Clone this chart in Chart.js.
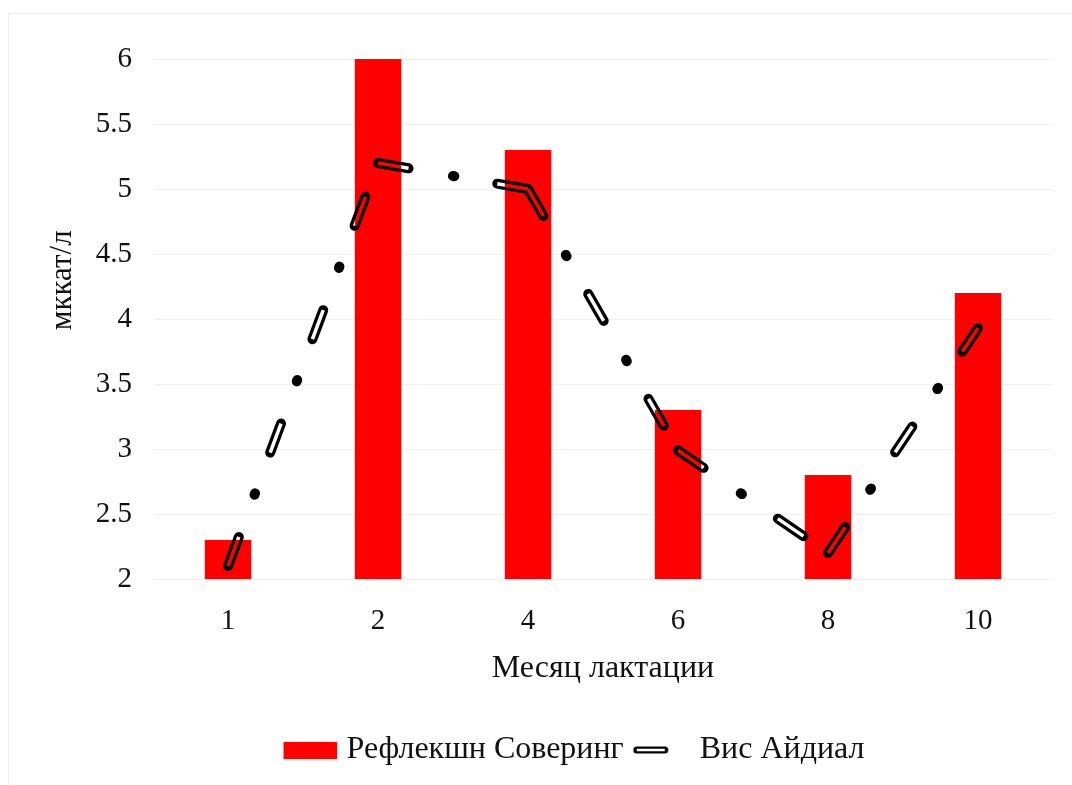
<!DOCTYPE html>
<html>
<head>
<meta charset="utf-8">
<script src="https://cdn.jsdelivr.net/npm/chart.js@4/dist/chart.umd.min.js"></script>
<style>
  html, body { margin: 0; padding: 0; background: #ffffff; }
  #wrap { position: relative; width: 1072px; height: 785px; overflow: hidden; }
  #frame { position: absolute; left: 8px; top: 13px; width: 1100px; height: 800px; border: 1px solid #ececec; box-sizing: border-box; }
  canvas { position: absolute; left: 0; top: 0; }
</style>
</head>
<body>
<div id="wrap">
  <div id="frame"></div>
  <canvas id="c" width="1072" height="785"></canvas>
</div>
<script>
// ---- data ----
const categories = ['1', '2', '4', '6', '8', '10'];
const reflexValues = [2.3, 6.0, 5.3, 3.3, 2.8, 4.2];
const visValues = [2.1, 5.2, 5.0, 2.99, 2.2, 3.93];
const seriesNames = ['Рефлекшн Соверинг', 'Вис Айдиал'];
const axisTitles = { x: 'Месяц лактации', y: 'мккат/л' };
const yRange = { min: 2, max: 6, step: 0.5 };

// ---- styles ----
const FONT = 'Liberation Serif';
const TXT = '#111111';
const RED = '#ff0000';
const DASH_OUTER = [31, 45, 1.5, 43.5];
const DASH_INNER = [31, 45, 0, 45];

function makeRedBox() {
  const c = document.createElement('canvas');
  c.width = 64; c.height = 17;
  const x = c.getContext('2d');
  x.fillStyle = RED; x.fillRect(11, 0, 53, 17);
  return c;
}
function makePill() {
  const c = document.createElement('canvas');
  c.width = 50; c.height = 10;
  const x = c.getContext('2d');
  x.strokeStyle = '#000';
  x.lineCap = 'round'; x.lineWidth = 7;
  x.beginPath(); x.moveTo(4, 5); x.lineTo(32, 5); x.stroke();
  x.globalCompositeOperation = 'destination-out';
  x.lineCap = 'butt'; x.lineWidth = 2.5;
  x.beginPath(); x.moveTo(4, 5); x.lineTo(32, 5); x.stroke();
  return c;
}
const redImg = makeRedBox();
const pillImg = makePill();

// draws outlined (hollow) dashed line: outer black stroke minus inner stroke
const hollowLine = {
  id: 'hollowLine',
  beforeDatasetDraw(chart, args) {
    if (args.index === 1 || args.index === 2) return false;
  },
  afterDatasetsDraw(chart) {
    const off = document.createElement('canvas');
    off.width = chart.canvas.width; off.height = chart.canvas.height;
    const octx = off.getContext('2d');
    const outer = chart.getDatasetMeta(1).dataset;
    const inner = chart.getDatasetMeta(2).dataset;
    outer.draw(octx, chart.chartArea, 0, outer.points.length);
    octx.globalCompositeOperation = 'destination-out';
    inner.draw(octx, chart.chartArea, 0, inner.points.length);
    chart.ctx.drawImage(off, 0, 0);
  }
};

// restart the dash pattern at every data point (each segment stroked separately)
const restartDash = { borderDashOffset: ctx => ctx.p0DataIndex * 0.001 };

new Chart(document.getElementById('c'), {
  type: 'bar',
  data: {
    labels: categories,
    datasets: [
      {
        label: seriesNames[0],
        data: reflexValues,
        backgroundColor: RED,
        borderWidth: 0,
        barPercentage: 0.31,
        categoryPercentage: 1.0
      },
      {
        type: 'line',
        label: seriesNames[1],
        data: visValues,
        borderColor: '#000000',
        backgroundColor: '#000000',
        borderWidth: 10,
        borderCapStyle: 'round',
        borderJoinStyle: 'round',
        borderDash: DASH_OUTER,
        tension: 0,
        pointRadius: 0,
        fill: false,
        segment: restartDash
      },
      {
        type: 'line',
        label: '_inner',
        data: visValues,
        borderColor: '#000000',
        borderWidth: 3.5,
        borderCapStyle: 'butt',
        borderJoinStyle: 'round',
        borderDash: DASH_INNER,
        tension: 0,
        pointRadius: 0,
        fill: false,
        segment: restartDash
      }
    ]
  },
  options: {
    responsive: false,
    animation: false,
    events: [],
    layout: { padding: { left: 90, right: 19, top: 59, bottom: 9 } },
    scales: {
      x: {
        grid: { display: false, drawTicks: false },
        border: { display: false },
        ticks: { color: TXT, font: { family: FONT, size: 29 }, padding: 25 },
        title: { display: true, text: axisTitles.x, color: TXT, font: { family: FONT, size: 32 }, padding: { top: 0, bottom: 38 } },
        afterFit(scale) { scale.height = 147; }
      },
      y: {
        min: yRange.min, max: yRange.max,
        grid: { color: '#f0f0f0', lineWidth: 1, drawTicks: false },
        border: { display: false },
        ticks: {
          stepSize: yRange.step, color: TXT, font: { family: FONT, size: 29 }, padding: 21,
          callback: v => String(Math.round(v * 10) / 10)
        },
        title: { display: true, text: '          ' + axisTitles.y, color: TXT, font: { family: FONT, size: 31 }, padding: { top: -46, bottom: 0 } },
        afterFit(scale) { scale.width = 63; }
      }
    },
    plugins: {
      tooltip: { enabled: false },
      legend: {
        position: 'bottom',
        labels: {
          usePointStyle: true,
          pointStyleWidth: 52,
          padding: 8,
          color: TXT,
          font: { family: FONT, size: 32 },
          generateLabels(chart) {
            const items = Chart.defaults.plugins.legend.labels.generateLabels(chart);
            return items.filter(it => it.datasetIndex !== 2).map(it => {
              it.pointStyle = it.datasetIndex === 0 ? redImg : pillImg;
              return it;
            });
          }
        }
      }
    }
  },
  plugins: [hollowLine]
});
</script>
</body>
</html>
